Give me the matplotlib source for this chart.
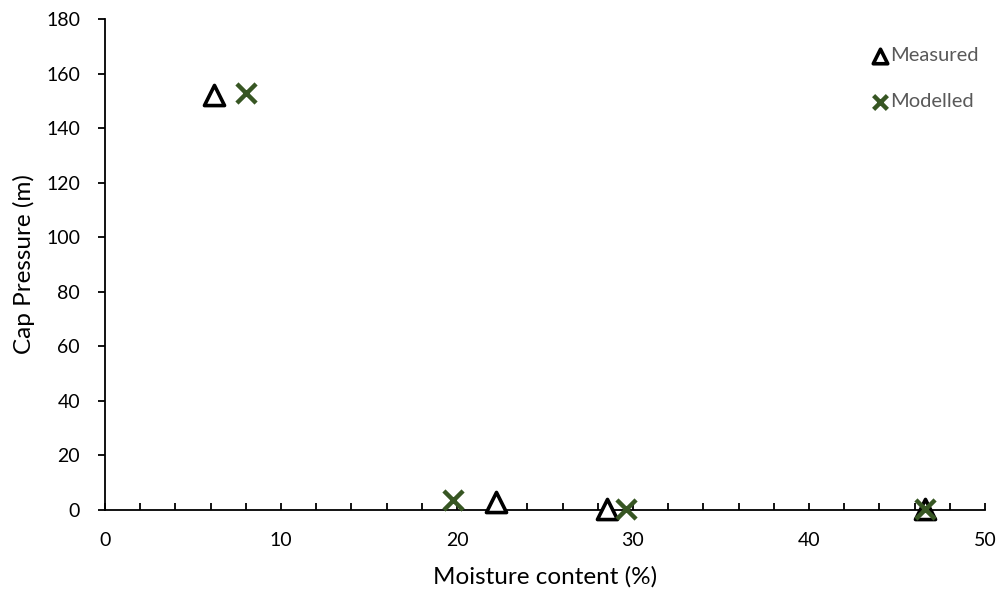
import matplotlib.pyplot as plt
from matplotlib.ticker import MultipleLocator

# 含水率与毛细压力数据
measured_x = [6.2, 22.2, 28.5, 46.6]
measured_y = [152.0, 3.0, 0.5, 0.3]
modelled_x = [8.0, 19.8, 29.6, 46.6]
modelled_y = [153.0, 3.5, 0.5, 0.3]

plt.rcParams['font.family'] = ['Lato', 'DejaVu Sans']

fig = plt.figure(figsize=(10.01, 5.94), dpi=100)
ax = fig.add_axes([0.1049, 0.1414, 0.8791, 0.8266])

ax.scatter(measured_x, measured_y, marker='^', s=210, facecolors='white',
           edgecolors='black', linewidths=2.6, label='Measured', zorder=3,
           clip_on=False)
ax.scatter(modelled_x, modelled_y, marker='x', s=190, color='#375623',
           linewidths=3.2, label='Modelled', zorder=4, clip_on=False)

ax.set_xlim(0, 50)
ax.set_ylim(0, 180)
ax.xaxis.set_major_locator(MultipleLocator(10))
ax.xaxis.set_minor_locator(MultipleLocator(2))
ax.yaxis.set_major_locator(MultipleLocator(20))

for side in ['top', 'right']:
    ax.spines[side].set_visible(False)
for side in ['left', 'bottom']:
    ax.spines[side].set_linewidth(1.3)
    ax.spines[side].set_color('black')

ax.tick_params(axis='x', which='both', direction='in', length=5, width=1.3,
               labelsize=14, pad=16, colors='black')
ax.tick_params(axis='y', which='major', direction='out', length=5, width=1.3,
               labelsize=14, pad=13, colors='black')

ax.set_xlabel('Moisture content (%)', fontsize=17.5, labelpad=12)
ax.set_ylabel('Cap Pressure (m)', fontsize=17.5, labelpad=8)

# 图例放在右上角
leg = ax.legend(loc='upper right', bbox_to_anchor=(1.009, 0.972),
                frameon=False, fontsize=14.5, handletextpad=0.0,
                labelspacing=1.45, markerscale=0.72, handlelength=1.0,
                borderaxespad=0.3)
for text in leg.get_texts():
    text.set_color('#595959')

fig.savefig('out.png', dpi=100)
